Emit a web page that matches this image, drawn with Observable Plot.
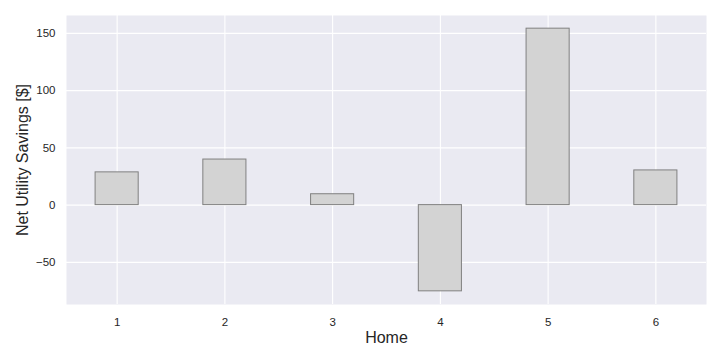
<!DOCTYPE html>
<html>
<head>
<meta charset="utf-8">
<script src="https://cdn.jsdelivr.net/npm/d3@7"></script>
<script src="https://cdn.jsdelivr.net/npm/@observablehq/plot@0.6"></script>
<style>
  html, body { margin: 0; padding: 0; background: #ffffff; }
  #chart { width: 720px; height: 360px; }
</style>
</head>
<body>
<div id="chart"></div>
<script>
const homes = ["1", "2", "3", "4", "5", "6"];
const savings = [28.6, 39.8, 9.5, -75.3, 154.1, 30.3];
const yTicks = [-50, 0, 50, 100, 150];
const xLabel = "Home";
const yLabel = "Net Utility Savings [$]";

const data = homes.map((h, i) => ({home: h, value: savings[i]}));

const chart = Plot.plot({
  width: 720,
  height: 360,
  marginLeft: 66,
  marginRight: 14,
  marginTop: 15,
  marginBottom: 56,
  style: {fontFamily: "'Liberation Sans', Arial, sans-serif", fontSize: "11.5px", color: "#262626", background: "#ffffff"},
  x: {type: "band", domain: homes, paddingInner: 0.6, paddingOuter: 0.27, round: false, label: null},
  y: {domain: [-86.8, 165.6], label: null},
  marks: [
    Plot.frame({fill: "#EAEAF2", stroke: null}),
    Plot.gridY(yTicks, {stroke: "#ffffff", strokeOpacity: 1, strokeWidth: 1.1}),
    Plot.gridX(homes, {stroke: "#ffffff", strokeOpacity: 1, strokeWidth: 1.1}),
    Plot.barY(data, {x: "home", y: "value", fill: "#D3D3D3", stroke: "#808080", strokeWidth: 1}),
    Plot.axisY(yTicks, {tickSize: 0, tickPadding: 11, label: null, fontSize: 11.5, fill: "#262626"}),
    Plot.axisX(homes, {tickSize: 0, tickPadding: 13, label: null, fontSize: 11.5, fill: "#262626"}),
    Plot.text([yLabel], {frameAnchor: "left", textAnchor: "middle", dx: -44, rotate: -90, fontSize: 16, fill: "#262626"}),
    Plot.text([xLabel], {frameAnchor: "bottom", textAnchor: "middle", dy: 38, fontSize: 16, fill: "#262626"})
  ]
});
document.getElementById("chart").appendChild(chart);
</script>
</body>
</html>
